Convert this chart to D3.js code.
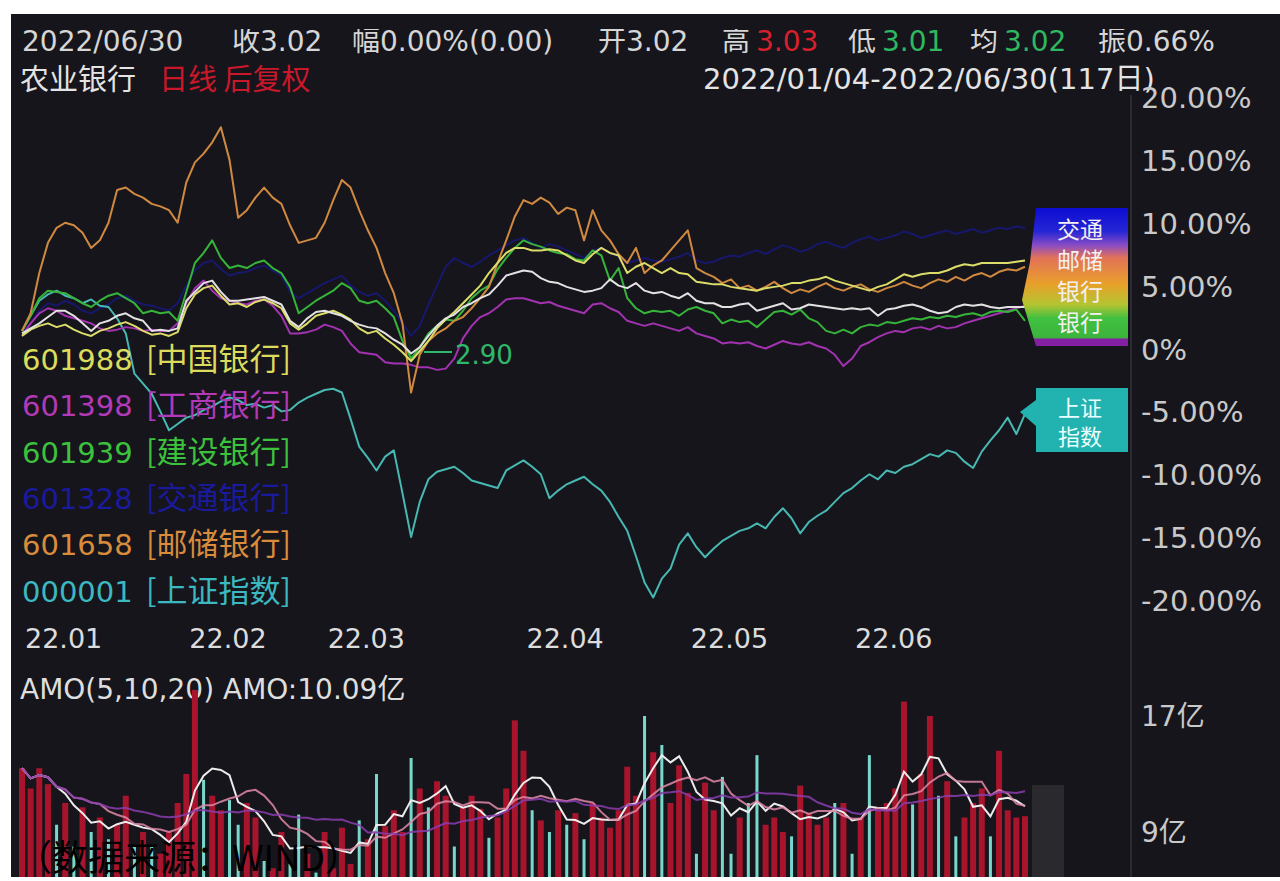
<!DOCTYPE html>
<html>
<head>
<meta charset="utf-8">
<script src="https://cdn.jsdelivr.net/npm/d3@7"></script>
<style>
body { margin: 0; background: #fff; }
svg { display: block; }
</style>
</head>
<body>
<svg width="1280" height="881"></svg>
<script>
// 데이터
const dayCount = 117;
const monthTicks = [0, 19, 35, 58, 77, 96];
const monthLabels = ["22.01", "22.02", "22.03", "22.04", "22.05", "22.06"];
const pctTicks = [20, 15, 10, 5, 0, -5, -10, -15, -20];
const pctLabels = ["20.00%", "15.00%", "10.00%", "5.00%", "0%", "-5.00%", "-10.00%", "-15.00%", "-20.00%"];

// 000001 上证指数
const szData = [1.4,2.6,3.8,4.3,4.6,4.2,4.0,3.6,3.9,3.4,3.3,2.4,1.2,-2.0,-2.8,-3.6,-5.0,-6.5,-6.0,-5.5,
  -5.3,-4.9,-4.6,-4.2,-3.9,-4.1,-4.5,-4.4,-4.7,-4.5,-5.0,-4.9,-4.3,-3.9,-3.6,-3.3,-3.2,-3.5,-5.6,-7.8,
  -8.7,-9.7,-8.6,-8.1,-11.5,-15.0,-12.2,-10.4,-9.8,-9.6,-9.4,-9.9,-10.5,-10.7,-10.9,-11.1,-9.7,-9.3,-8.9,-9.4,
  -10.0,-11.9,-11.3,-10.8,-10.5,-10.2,-10.8,-11.3,-12.2,-13.4,-14.5,-16.5,-18.6,-19.8,-18.3,-17.5,-15.6,-14.7,-15.8,-16.6,
  -15.9,-15.3,-14.9,-14.5,-14.3,-13.9,-14.3,-13.4,-12.7,-13.5,-14.7,-13.8,-13.3,-12.9,-12.2,-11.5,-11.1,-10.5,-10.0,-10.4,
  -9.7,-9.9,-9.4,-9.2,-8.8,-8.4,-8.6,-8.1,-8.3,-9.0,-9.5,-8.2,-7.3,-6.5,-5.5,-6.8,-5.2];
// 601658 邮储银行
const ycData = [1.4,2.8,6.0,8.4,9.6,10.0,9.8,9.2,8.0,8.6,10.0,12.6,12.8,12.3,12.0,11.5,11.3,11.0,10.0,13.2,
  14.8,15.5,16.4,17.6,15.0,10.4,11.0,12.0,12.8,12.0,11.5,9.8,8.4,8.6,8.8,10.0,11.8,13.4,12.8,11.0,
  9.4,8.0,6.0,4.4,2.0,-3.5,-0.5,0.6,1.2,1.6,2.2,2.5,3.2,4.0,4.9,6.8,8.6,10.5,11.8,11.5,
  12.0,11.6,10.7,11.2,11.0,8.6,11.0,9.4,8.6,7.5,6.8,8.0,6.0,6.6,7.0,7.8,8.6,9.4,6.4,6.0,
  5.7,5.2,5.5,4.8,5.0,4.6,4.9,5.3,4.8,4.4,4.7,4.5,4.9,5.2,4.8,4.6,4.9,5.1,4.7,4.5,
  4.8,5.0,5.3,5.0,4.8,5.2,5.5,5.3,5.7,5.4,5.8,6.0,5.7,6.1,6.3,6.2,6.5];
// 601939 建设银行
const jsData = [1.4,2.6,4.0,4.6,4.5,4.4,4.0,3.6,3.3,3.8,4.2,4.4,4.0,3.6,2.8,3.0,2.8,2.9,2.2,4.5,
  6.8,7.6,8.6,7.2,6.4,6.6,6.4,6.8,7.0,6.4,6.0,4.9,2.8,3.3,3.8,4.2,4.6,5.2,4.8,3.8,
  3.6,3.8,3.2,2.5,0.6,-0.8,0.1,1.2,1.8,2.3,2.2,3.0,4.0,4.6,5.0,6.3,7.2,8.0,8.6,8.3,
  8.1,7.8,7.6,7.5,7.1,7.0,7.8,7.4,5.4,6.4,4.0,3.2,2.8,3.0,2.9,3.0,2.6,3.1,3.3,3.0,
  2.8,2.0,2.3,2.1,2.2,1.7,2.3,2.9,3.0,2.7,3.1,2.4,2.1,1.4,1.2,1.5,1.2,1.7,1.9,1.8,
  2.1,2.0,2.2,2.4,2.3,2.5,2.4,2.6,2.5,2.7,2.8,2.6,2.9,3.0,2.9,3.1,2.2];
// 农业银行 (본 종목)
const nyData = [1.2,1.6,2.0,2.5,3.0,3.0,2.6,2.0,1.4,2.0,2.2,2.6,2.8,2.4,2.2,1.4,1.5,1.4,1.6,3.8,
  4.5,5.2,5.4,4.5,3.8,3.8,3.9,4.0,4.1,3.8,3.5,2.2,1.7,2.4,2.9,3.0,2.8,2.6,2.2,1.9,
  1.7,1.6,1.2,0.7,0.3,-0.4,0.1,1.0,1.8,2.4,2.7,3.3,3.6,4.0,4.3,5.0,5.8,6.0,6.2,6.1,
  5.6,5.3,5.2,4.9,4.7,4.5,4.6,4.8,5.5,5.0,4.8,5.2,4.6,4.4,4.5,4.2,4.0,4.4,3.8,3.6,
  3.6,3.3,3.3,3.5,3.6,3.0,3.2,3.4,3.6,3.1,3.2,3.5,3.4,3.3,3.2,3.1,3.2,3.1,3.2,2.6,
  3.1,3.2,3.4,3.5,3.3,3.0,2.8,2.9,3.3,3.5,3.4,3.5,3.3,3.2,3.3,3.3,3.3];
// 601988 中国银行
const zgData = [1.0,1.5,1.8,2.0,1.7,1.9,1.5,1.2,1.0,1.4,1.6,1.9,2.1,1.8,1.4,1.1,1.2,1.0,1.3,3.2,
  4.3,4.8,5.0,4.2,3.5,3.6,3.3,3.7,3.9,3.6,3.2,2.0,1.5,2.0,2.6,2.8,3.0,2.7,2.3,1.6,
  1.2,1.4,0.8,0.3,-0.3,-1.0,-0.2,0.6,1.6,2.3,2.9,3.6,4.3,5.0,6.0,6.8,7.6,8.0,8.0,7.8,
  7.8,7.9,7.8,7.4,7.0,6.8,7.5,8.0,7.6,7.4,6.0,6.5,6.8,6.4,6.0,6.4,6.0,5.9,5.3,5.2,
  5.1,5.1,4.9,4.8,4.7,4.6,4.8,4.9,5.0,5.2,5.2,5.4,5.5,5.7,5.4,5.2,5.0,4.8,4.6,4.9,
  5.1,5.5,5.9,5.7,5.9,6.0,6.0,6.2,6.5,6.7,6.6,6.8,6.8,6.8,6.8,6.9,7.0];
// 601398 工商银行
const gsData = [1.0,2.0,2.8,3.2,3.0,2.6,2.4,2.2,2.0,1.6,1.4,1.5,1.7,1.6,1.4,1.5,1.4,1.4,2.0,3.6,
  4.8,5.4,4.6,4.0,3.8,3.6,3.5,3.8,3.9,3.4,2.6,1.2,1.2,1.3,1.5,1.9,1.7,1.4,0.4,-0.3,
  -0.4,-0.5,-1.1,-1.2,-1.2,-1.3,-1.5,-1.5,-1.7,-1.6,-0.8,0.8,1.8,2.5,2.8,3.3,3.9,4.0,4.0,3.8,
  3.6,3.7,3.4,3.2,3.0,2.8,3.5,3.6,3.2,2.9,2.2,2.0,1.8,2.0,1.8,1.6,1.4,1.7,1.2,1.0,
  0.8,0.4,0.5,0.4,0.5,0.2,0.0,0.3,0.6,0.4,0.3,0.5,0.2,0.0,-0.5,-1.4,-0.8,0.2,0.5,0.9,
  1.2,1.4,1.3,1.6,1.7,1.5,1.8,1.6,1.7,2.0,2.2,2.4,2.6,2.8,3.0,3.2,3.4];
// 601328 交通银行
const jtData = [1.2,2.0,3.0,3.6,3.4,3.8,3.5,3.0,2.8,3.2,3.5,4.0,4.2,3.8,3.5,3.4,3.2,3.0,3.6,5.0,
  6.2,6.8,7.0,6.3,5.8,6.0,6.1,6.4,6.6,6.2,5.8,4.5,4.0,4.4,4.8,5.2,5.5,5.8,5.0,4.5,
  4.2,4.4,3.8,3.0,2.0,1.0,1.8,3.5,5.0,6.5,7.2,6.8,6.5,6.9,7.4,7.8,8.2,8.6,8.8,8.4,
  8.0,8.3,8.1,7.8,7.5,7.2,7.8,8.0,7.6,7.3,6.8,7.0,7.2,7.0,6.9,7.1,7.3,7.6,7.0,6.8,
  6.9,7.2,7.4,7.3,7.6,7.8,7.5,7.9,8.2,8.0,7.7,7.9,8.3,8.5,8.2,8.0,8.4,8.7,8.9,8.6,
  8.8,9.0,9.3,9.1,8.8,9.0,9.2,9.4,9.1,9.3,9.5,9.2,9.4,9.6,9.5,9.7,9.6];

const legendCodes = ["601988", "601398", "601939", "601328", "601658", "000001"];
const legendNames = ["[中国银行]", "[工商银行]", "[建设银行]", "[交通银行]", "[邮储银行]", "[上证指数]"];
const tagNames = ["交通", "邮储", "银行", "银行"];
const szTag = ["上证", "指数"];

// AMO 成交额(亿)
const amo = [13.4,12.0,13.4,12.3,9.5,11.0,8.0,10.7,9.0,10.0,
  8.5,9.5,11.5,8.0,9.0,8.0,7.5,9.0,11.0,13.0,
  18.8,12.6,11.5,10.5,11.2,9.5,11.0,10.0,7.0,6.5,
  9.0,6.8,10.2,7.5,6.2,9.0,6.5,9.3,6.8,9.8,
  8.5,13.0,9.4,10.5,9.0,14.1,12.0,10.7,12.5,11.5,
  8.0,10.7,11.5,10.6,8.6,10.0,12.0,16.7,14.6,10.5,
  9.8,9.0,10.5,9.5,10.3,8.5,11.0,10.0,9.3,10.5,
  13.5,11.5,17.0,14.5,15.0,11.0,13.6,11.7,7.5,12.4,
  10.5,12.8,7.5,10.0,11.0,14.3,9.5,10.0,9.0,8.7,
  12.2,10.3,9.5,10.0,11.0,11.0,7.5,10.0,14.3,10.5,
  11.0,12.0,18.0,10.9,13.0,17.0,11.5,12.5,8.7,10.0,
  11.0,12.0,8.7,14.6,10.5,10.0,10.09];
const amoUp = [1,1,1,1,0,1,0,1,0,1, 0,1,1,0,1,0,1,1,1,1,
  1,0,1,1,0,0,1,1,0,1, 1,0,0,1,0,1,1,1,1,0,
  1,0,1,1,1,0,1,0,1,1, 0,1,1,1,0,1,1,1,1,0,
  1,0,1,0,1,0,1,1,1,1, 1,1,0,1,0,1,1,1,0,1,
  1,0,0,1,0,0,1,1,1,0, 1,1,1,1,0,1,0,1,0,1,
  1,1,1,0,1,1,0,1,0,1, 1,1,0,1,1,1,1];
const amoTicks = [17, 9];
const amoLabels = ["17亿", "9亿"];
const amoPeriods = [5, 10, 20];

const svg = d3.select("svg");
const font = "'DejaVu Sans', 'Noto Sans CJK SC', sans-serif";
const cjk = "'Noto Sans CJK SC', 'Noto Sans', sans-serif";
const bg = "#16151c";

// 배경
svg.append("rect").attr("width", 1280).attr("height", 881).attr("fill", "#fff");
svg.append("rect").attr("x", 11).attr("y", 14).attr("width", 1269).attr("height", 863).attr("fill", bg);

// 스케일
const x = d3.scaleLinear().domain([0, dayCount - 1]).range([22, 1025]);
const y = d3.scaleLinear().domain([-20, 20]).range([600, 97]);
const yv = d3.scaleLinear().domain([9, 17]).range([832, 716]);

// 오른쪽 구분선
svg.append("line").attr("x1", 1131).attr("x2", 1131).attr("y1", 95).attr("y2", 877)
  .attr("stroke", "#2b2a33").attr("stroke-width", 2);

// 상단 정보
const info = [
  {t: "2022/06/30", x: 22, c: "#d6d6d6"},
  {t: "收3.02", x: 232, c: "#d6d6d6"},
  {t: "幅0.00%(0.00)", x: 352, c: "#d6d6d6"},
  {t: "开3.02", x: 598, c: "#d6d6d6"},
  {t: "高", x: 722, c: "#d6d6d6"}, {t: "3.03", x: 756, c: "#d8202c"},
  {t: "低", x: 848, c: "#d6d6d6"}, {t: "3.01", x: 882, c: "#2eb860"},
  {t: "均", x: 970, c: "#d6d6d6"}, {t: "3.02", x: 1004, c: "#2eb860"},
  {t: "振0.66%", x: 1098, c: "#d6d6d6"}
];
svg.append("g").selectAll("text").data(info).join("text")
  .attr("x", d => d.x).attr("y", 51)
  .attr("font-family", font).attr("font-size", 28)
  .attr("fill", d => d.c).text(d => d.t);
svg.append("rect").attr("x", 11).attr("y", 14).attr("width", 1269).attr("height", 15).attr("fill", bg);

svg.append("text").attr("x", 20).attr("y", 90).attr("font-family", cjk).attr("font-size", 29)
  .attr("fill", "#e4e4e4").text("农业银行");
svg.append("text").attr("x", 159).attr("y", 90).attr("font-family", cjk).attr("font-size", 29)
  .attr("fill", "#c8182a").text("日线 后复权");
svg.append("text").attr("x", 703).attr("y", 89).attr("font-family", font).attr("font-size", 29)
  .attr("fill", "#e4e4e4").text("2022/01/04-2022/06/30(117日)");

// y축 라벨
svg.append("g").selectAll("text").data(pctTicks).join("text")
  .attr("x", 1141).attr("y", d => y(d) + 11)
  .attr("font-family", font).attr("font-size", 29)
  .attr("fill", "#c9c9c9")
  .text((d, i) => pctLabels[i]);

// x축 라벨
svg.append("g").selectAll("text").data(monthTicks).join("text")
  .attr("x", d => x(d) + 3).attr("y", 648)
  .attr("font-family", font).attr("font-size", 27)
  .attr("fill", "#dcdcdc")
  .text((d, i) => monthLabels[i]);

// 선
const line = d3.line().x((d, i) => x(i)).y(d => y(d));
const series = [
  {data: jtData, color: "#17176c"},
  {data: szData, color: "#48b8b2"},
  {data: gsData, color: "#a232b0"},
  {data: jsData, color: "#36b43a"},
  {data: ycData, color: "#d08a40"},
  {data: zgData, color: "#dcdc6a"},
  {data: nyData, color: "#e2e2e2"}
];
svg.append("defs").append("clipPath").attr("id", "mainClip")
  .append("rect").attr("x", 12).attr("y", 95).attr("width", 1118).attr("height", 515);
svg.append("g").attr("clip-path", "url(#mainClip)")
  .selectAll("path").data(series).join("path")
  .attr("d", d => line(d.data))
  .attr("fill", "none")
  .attr("stroke", d => d.color)
  .attr("stroke-width", 2)
  .attr("stroke-linejoin", "round");

// 최저가 표시
svg.append("line").attr("x1", 424).attr("x2", 452).attr("y1", 352).attr("y2", 352)
  .attr("stroke", "#2fb868").attr("stroke-width", 2);
svg.append("text").attr("x", 455).attr("y", 364).attr("font-family", font).attr("font-size", 26)
  .attr("fill", "#2fb868").text("2.90");

// 범례
const legendColors = ["#dcdc5c", "#b23ab8", "#3cc23c", "#1a1a9c", "#d88c3c", "#3cb8c0"];
const lg = svg.append("g").selectAll("g").data(legendCodes).join("g")
  .attr("transform", (d, i) => `translate(22, ${370 + i * 46.3})`);
lg.append("text").attr("font-family", font).attr("font-size", 29)
  .attr("fill", (d, i) => legendColors[i]).text(d => d);
lg.append("text").attr("x", 124).attr("font-family", cjk).attr("font-size", 31)
  .attr("fill", (d, i) => legendColors[i]).text((d, i) => legendNames[i]);

// 오른쪽 태그
const grad = svg.select("defs").append("linearGradient").attr("id", "tagGrad")
  .attr("x1", 0).attr("x2", 0).attr("y1", 0).attr("y2", 1);
[[0, "#0c0cd2"], [0.17, "#2626d6"], [0.27, "#8a4cc4"], [0.36, "#e27258"], [0.55, "#e8a02a"],
 [0.7, "#b4c432"], [0.8, "#40c040"], [0.94, "#3cb43c"], [0.95, "#8420a4"], [1, "#8420a4"]]
  .forEach(s => grad.append("stop").attr("offset", s[0]).attr("stop-color", s[1]));
svg.append("polygon")
  .attr("points", "1036,208 1128,208 1128,346 1036,346 1022,300 1030,262")
  .attr("fill", "url(#tagGrad)");
svg.append("g").selectAll("text").data(tagNames).join("text")
  .attr("x", 1080).attr("y", (d, i) => 238 + i * 31)
  .attr("text-anchor", "middle").attr("font-family", cjk).attr("font-size", 23)
  .attr("fill", "#f4f0f0").text(d => d);

svg.append("polygon")
  .attr("points", "1036,388 1128,388 1128,452 1036,452 1036,426 1020,412 1036,400")
  .attr("fill", "#22b2b0");
svg.append("g").selectAll("text").data(szTag).join("text")
  .attr("x", 1080).attr("y", (d, i) => 416 + i * 29)
  .attr("text-anchor", "middle").attr("font-family", cjk).attr("font-size", 22)
  .attr("fill", "#eaffff").text(d => d);

// AMO 패널
svg.append("text").attr("x", 20).attr("y", 699).attr("font-family", font).attr("font-size", 28)
  .attr("fill", "#dedede").text("AMO(5,10,20)  AMO:10.09亿");
svg.append("g").selectAll("text").data(amoTicks).join("text")
  .attr("x", 1141).attr("y", d => yv(d) + 10)
  .attr("font-family", font).attr("font-size", 28)
  .attr("fill", "#c9c9c9")
  .text((d, i) => amoLabels[i]);

svg.select("defs").append("clipPath").attr("id", "volClip")
  .append("rect").attr("x", 12).attr("y", 670).attr("width", 1118).attr("height", 207);
const vg = svg.append("g").attr("clip-path", "url(#volClip)");
vg.append("rect").attr("x", 1032).attr("y", 785).attr("width", 32).attr("height", 100).attr("fill", "#2a292e");
vg.selectAll("rect.bar").data(amo).join("rect")
  .attr("class", "bar")
  .attr("x", (d, i) => x(i) - (amoUp[i] ? 3 : 1.5))
  .attr("width", (d, i) => amoUp[i] ? 6 : 3)
  .attr("y", d => yv(d))
  .attr("height", d => yv(0) - yv(d))
  .attr("fill", (d, i) => amoUp[i] ? "#a8142c" : "#78d8cc");

const maColors = ["#ececec", "#e08aa8", "#8a3cae"];
const maLine = d3.line().x(d => x(d.i)).y(d => yv(d.v));
amoPeriods.forEach((n, k) => {
  const ma = amo.map((d, i) => ({i: i, v: d3.mean(amo.slice(Math.max(0, i - n + 1), i + 1))}));
  vg.append("path").attr("d", maLine(ma))
    .attr("fill", "none").attr("stroke", maColors[k]).attr("stroke-width", 2)
    .attr("opacity", k === 0 ? 1 : 0.85);
});

// 출처
svg.append("text").attr("x", 16).attr("y", 871).attr("font-family", cjk).attr("font-size", 36)
  .attr("fill", "#000").text("（数据来源：WIND）");
</script>
</body>
</html>
